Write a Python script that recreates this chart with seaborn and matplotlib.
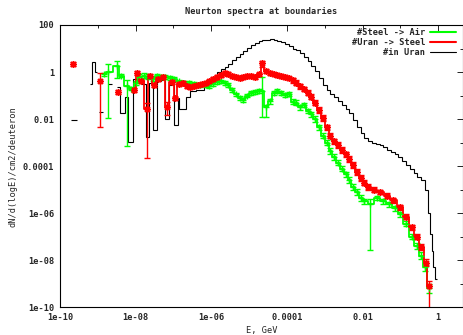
import numpy as np
import pandas as pd
import matplotlib
matplotlib.use("Agg")
import matplotlib.pyplot as plt
from matplotlib.lines import Line2D
import seaborn as sns

# energies as log10(E / GeV), fluxes as log10(dN/d(logE)/cm2/deuteron)
# dlo / dhi: size of the error bar below / above the point, in decades

# Steel -> Air
steel_air_logE = [-8.84, -8.73, -8.49, -8.38, -8.24, -8.12, -8.00, -7.90, -7.78, -7.66,
                  -7.55, -7.44, -7.33, -7.22, -7.10, -6.98, -6.85, -6.72, -6.60, -6.45,
                  -6.30, -6.15, -6.05, -5.95, -5.85, -5.75, -5.65, -5.55, -5.45, -5.35,
                  -5.25, -5.15, -5.05, -4.95, -4.85, -4.75, -4.65, -4.56, -4.46, -4.35,
                  -4.25, -4.15, -4.05, -3.95, -3.85, -3.75, -3.65, -3.55, -3.45, -3.35,
                  -3.25, -3.15, -3.05, -2.95, -2.85, -2.75, -2.65, -2.55, -2.45, -2.35,
                  -2.25, -2.15, -2.05, -1.95, -1.80, -1.62, -1.45, -1.30, -1.15, -1.00,
                  -0.85, -0.70, -0.57, -0.45, -0.35, -0.24]
steel_air_logF = [-0.10, 0.00, 0.25, -0.15, -0.60, -0.70, -0.45, -0.20, -0.15, -0.20,
                  -0.30, -0.15, -0.20, -0.20, -0.25, -0.30, -0.40, -0.47, -0.45, -0.50,
                  -0.55, -0.55, -0.60, -0.50, -0.42, -0.40, -0.45, -0.55, -0.77, -0.95,
                  -1.10, -1.19, -1.00, -0.90, -0.84, -0.80, -0.80, -1.50, -1.25, -0.90,
                  -0.80, -0.90, -0.98, -0.92, -1.26, -1.30, -1.50, -1.40, -1.65, -1.80,
                  -2.00, -2.35, -2.70, -3.00, -3.35, -3.60, -3.85, -4.10, -4.35, -4.60,
                  -4.90, -5.10, -5.35, -5.50, -5.60, -5.36, -5.50, -5.62, -5.80, -6.05,
                  -6.44, -7.00, -7.40, -7.80, -8.30, -9.20]
steel_air_dlo = [0.08, 1.97, 0.50, 0.08, 2.55, 0.08, 0.08, 0.10, 0.10, 0.10,
                 0.08, 0.08, 0.08, 0.08, 0.08, 0.08, 0.08, 0.08, 0.08, 0.08,
                 0.08, 0.08, 0.08, 0.08, 0.08, 0.08, 0.08, 0.08, 0.08, 0.08,
                 0.08, 0.08, 0.08, 0.08, 0.08, 0.08, 1.10, 0.40, 0.10, 0.08,
                 0.08, 0.08, 0.08, 0.08, 0.10, 0.10, 0.10, 0.10, 0.10, 0.10,
                 0.12, 0.12, 0.12, 0.12, 0.12, 0.12, 0.12, 0.12, 0.12, 0.12,
                 0.12, 0.12, 0.12, 0.12, 1.97, 0.10, 0.10, 0.10, 0.10, 0.10,
                 0.10, 0.10, 0.12, 0.15, 0.15, 0.20]
steel_air_dhi = [0.08, 0.35, 0.20, 0.08, 0.26, 0.08, 0.08, 0.10, 0.10, 0.10,
                 0.08, 0.08, 0.08, 0.08, 0.08, 0.08, 0.08, 0.08, 0.08, 0.08,
                 0.08, 0.08, 0.08, 0.08, 0.08, 0.08, 0.08, 0.08, 0.08, 0.08,
                 0.08, 0.08, 0.08, 0.08, 0.08, 0.08, 0.60, 0.10, 0.10, 0.08,
                 0.08, 0.08, 0.08, 0.08, 0.10, 0.10, 0.10, 0.10, 0.10, 0.10,
                 0.12, 0.12, 0.12, 0.12, 0.12, 0.12, 0.12, 0.12, 0.12, 0.12,
                 0.12, 0.12, 0.12, 0.12, 0.20, 0.10, 0.10, 0.10, 0.10, 0.10,
                 0.10, 0.10, 0.12, 0.15, 0.15, 0.20]

# Uran -> Steel
uran_steel_logE = [-9.65, -8.93, -8.46, -8.05, -7.96, -7.85, -7.71, -7.62, -7.52, -7.40,
                   -7.28, -7.17, -7.05, -6.95, -6.85, -6.75, -6.65, -6.55, -6.45, -6.35,
                   -6.25, -6.15, -6.05, -5.95, -5.85, -5.75, -5.65, -5.55, -5.45, -5.35,
                   -5.25, -5.15, -5.05, -4.95, -4.85, -4.75, -4.65, -4.55, -4.45, -4.35,
                   -4.25, -4.15, -4.05, -3.95, -3.85, -3.75, -3.65, -3.55, -3.45, -3.35,
                   -3.25, -3.15, -3.05, -2.95, -2.85, -2.75, -2.65, -2.55, -2.45, -2.35,
                   -2.25, -2.15, -2.05, -1.95, -1.85, -1.70, -1.53, -1.36, -1.19, -1.02,
                   -0.85, -0.70, -0.57, -0.45, -0.33, -0.24]
uran_steel_logF = [0.34, -0.37, -0.84, -0.77, -0.05, -0.40, -1.55, -0.15, -0.55, -0.30,
                   -0.20, -1.47, -0.41, -1.12, -0.50, -0.48, -0.60, -0.64, -0.60, -0.55,
                   -0.50, -0.45, -0.40, -0.30, -0.20, -0.12, -0.05, -0.08, -0.15, -0.20,
                   -0.25, -0.20, -0.18, -0.15, -0.20, -0.10, 0.37, 0.05, -0.05, -0.10,
                   -0.12, -0.18, -0.20, -0.27, -0.35, -0.45, -0.60, -0.72, -0.88, -1.05,
                   -1.30, -1.60, -1.95, -2.35, -2.70, -2.95, -3.10, -3.30, -3.50, -3.70,
                   -3.95, -4.25, -4.50, -4.70, -4.90, -5.00, -5.10, -5.25, -5.45, -5.75,
                   -6.15, -6.60, -7.00, -7.45, -8.10, -9.10]
uran_steel_dlo = [0.08, 1.98, 0.08, 0.08, 0.08, 0.08, 2.10, 0.08, 0.08, 0.08,
                  0.08, 0.36, 0.08, 0.08, 0.08, 0.08, 0.08, 0.08, 0.08, 0.08,
                  0.08, 0.08, 0.08, 0.08, 0.08, 0.08, 0.08, 0.08, 0.08, 0.08,
                  0.08, 0.08, 0.08, 0.08, 0.08, 0.08, 0.15, 0.08, 0.08, 0.08,
                  0.08, 0.08, 0.08, 0.08, 0.10, 0.10, 0.10, 0.10, 0.10, 0.10,
                  0.12, 0.12, 0.12, 0.12, 0.12, 0.12, 0.12, 0.12, 0.12, 0.12,
                  0.12, 0.12, 0.12, 0.12, 0.12, 0.10, 0.10, 0.10, 0.10, 0.10,
                  0.10, 0.10, 0.10, 0.12, 0.15, 1.50]
uran_steel_dhi = [0.08, 0.31, 0.08, 0.08, 0.08, 0.08, 0.25, 0.08, 0.08, 0.08,
                  0.08, 0.21, 0.08, 0.08, 0.08, 0.08, 0.08, 0.08, 0.08, 0.08,
                  0.08, 0.08, 0.08, 0.08, 0.08, 0.08, 0.08, 0.08, 0.08, 0.08,
                  0.08, 0.08, 0.08, 0.08, 0.08, 0.08, 0.10, 0.08, 0.08, 0.08,
                  0.08, 0.08, 0.08, 0.08, 0.10, 0.10, 0.10, 0.10, 0.10, 0.10,
                  0.12, 0.12, 0.12, 0.12, 0.12, 0.12, 0.12, 0.12, 0.12, 0.12,
                  0.12, 0.12, 0.12, 0.12, 0.12, 0.10, 0.10, 0.10, 0.10, 0.10,
                  0.10, 0.10, 0.10, 0.12, 0.15, 0.20]

# in Uran: histogram, bin edges and one value per bin (nan = empty bin)
nan = np.nan
in_uran_edges = [-9.72, -9.56, -9.20, -9.15, -9.07, -9.03, -8.97, -8.87, -8.73, -8.63,
                 -8.50, -8.42, -8.29, -8.20, -8.08, -7.97, -7.85, -7.73, -7.65, -7.55,
                 -7.44, -7.33, -7.23, -7.12, -6.99, -6.89, -6.85, -6.68, -6.55, -6.40,
                 -6.20, -6.05, -5.95, -5.85, -5.75, -5.65, -5.55, -5.45, -5.35, -5.25,
                 -5.15, -5.05, -4.95, -4.85, -4.75, -4.65, -4.55, -4.45, -4.35, -4.25,
                 -4.15, -4.05, -3.95, -3.85, -3.75, -3.65, -3.55, -3.45, -3.35, -3.25,
                 -3.15, -3.05, -2.95, -2.85, -2.75, -2.65, -2.55, -2.45, -2.35, -2.25,
                 -2.15, -2.05, -1.95, -1.85, -1.75, -1.65, -1.55, -1.45, -1.35, -1.25,
                 -1.15, -1.05, -0.95, -0.85, -0.75, -0.65, -0.55, -0.45, -0.35, -0.275,
                 -0.225, -0.175, -0.125, -0.075, -0.03]
in_uran_logF = [-2.05, nan, -0.50, 0.43, 0.00, nan, -1.69, nan, -0.50, nan,
                -0.62, -1.73, -1.05, -2.96, -0.30, -0.40, -0.50, -2.75, -0.45, -2.47,
                -0.40, -0.35, -2.00, -0.55, -2.26, -1.10, -1.55, -1.05, -0.81, -0.77,
                -0.62, -0.45, -0.20, 0.00, 0.12, 0.23, 0.35, 0.50, 0.65, 0.78,
                0.90, 1.02, 1.15, 1.23, 1.30, 1.35, 1.38, 1.39, 1.36, 1.32,
                1.26, 1.18, 1.10, 1.00, 0.93, 0.82, 0.65, 0.48, 0.25, 0.05,
                -0.25, -0.55, -0.75, -0.95, -1.05, -1.25, -1.40, -1.55, -1.75, -2.05,
                -2.35, -2.60, -2.80, -2.95, -3.02, -3.05, -3.10, -3.20, -3.30, -3.40,
                -3.50, -3.62, -3.78, -3.95, -4.12, -4.30, -4.45, -4.60, -5.00, -6.00,
                -6.90, -7.60, -8.30, -8.80]

GREEN = "#00ff00"
RED = "#ff0000"
GAP_DEX = 0.3   # points further apart than this are not joined by the step line


def spectrum_frame(logE, logF, dlo, dhi):
    df = pd.DataFrame({"logE": logE, "logF": logF, "dlo": dlo, "dhi": dhi})
    df["E"] = 10.0 ** df["logE"]
    df["F"] = 10.0 ** df["logF"]
    df["lo"] = df["F"] - 10.0 ** (df["logF"] - df["dlo"])
    df["hi"] = 10.0 ** (df["logF"] + df["dhi"]) - df["F"]
    df["seg"] = (df["logE"].diff() > GAP_DEX).cumsum()
    return df


steel_air = spectrum_frame(steel_air_logE, steel_air_logF, steel_air_dlo, steel_air_dhi)
uran_steel = spectrum_frame(uran_steel_logE, uran_steel_logF, uran_steel_dlo, uran_steel_dhi)

sns.set_style("white")
plt.rcParams["font.family"] = ["DejaVu Sans Mono"]
plt.rcParams["font.weight"] = "bold"
plt.rcParams["font.size"] = 6.2

fig, ax = plt.subplots(figsize=(4.63, 3.35), dpi=100)
fig.subplots_adjust(left=60 / 463, right=462.5 / 463, bottom=1 - 307.3 / 335, top=1 - 25 / 335)
ax.set_xscale("log")
ax.set_yscale("log")

for df, color, marker, ms in [(steel_air, GREEN, "+", 4), (uran_steel, RED, (8, 2, 0), 5)]:
    sns.lineplot(data=df, x="E", y="F", units="seg", estimator=None, sort=False,
                 drawstyle="steps-mid", color=color, lw=1.3, legend=False, ax=ax)
    ax.errorbar(df["E"], df["F"], yerr=[df["lo"], df["hi"]], linestyle="none",
                marker=marker, ms=ms, mew=1.0, color=color, ecolor=color,
                elinewidth=1.0, capsize=2, capthick=1.0)

ax.stairs(10.0 ** np.array(in_uran_logF), 10.0 ** np.array(in_uran_edges),
          baseline=None, color="black", lw=0.8)

ax.set_xlim(1e-10, 4.4)
ax.set_ylim(1e-10, 100)
ax.set_xticks([1e-10, 1e-8, 1e-6, 1e-4, 1e-2, 1])
ax.set_xticklabels(["1e-10", "1e-08", "1e-06", "0.0001", "0.01", "1"])
ax.set_xticks([1e-9, 1e-7, 1e-5, 1e-3, 1e-1], minor=True)
ax.set_yticks([1e-10, 1e-8, 1e-6, 1e-4, 1e-2, 1, 100])
ax.set_yticklabels(["1e-10", "1e-08", "1e-06", "0.0001", "0.01", "1", "100"])
ax.set_yticks([1e-9, 1e-7, 1e-5, 1e-3, 1e-1, 10], minor=True)
ax.xaxis.set_minor_formatter(plt.NullFormatter())
ax.yaxis.set_minor_formatter(plt.NullFormatter())
ax.tick_params(which="both", direction="in", top=True, right=True, width=0.6, color="black")
ax.tick_params(which="major", length=4, pad=4)
ax.tick_params(which="minor", length=2.5)
for sp in ax.spines.values():
    sp.set_color("black")
    sp.set_linewidth(0.8)

ax.set_title("Neurton spectra at boundaries", pad=8, fontsize=6.2, fontweight="bold")
ax.set_xlabel("E, GeV", labelpad=3)
ax.set_ylabel("dN/d(logE)/cm2/deuteron", labelpad=4)

handles = [Line2D([], [], color=GREEN, lw=1.5),
           Line2D([], [], color=RED, lw=1.5),
           Line2D([], [], color="black", lw=0.8)]
ax.legend(handles, ["#Steel -> Air", "#Uran -> Steel", "#in Uran"],
          loc="upper right", bbox_to_anchor=(0.984, 0.99), frameon=False,
          markerfirst=False, handlelength=3.0, handletextpad=0.6,
          labelspacing=0.1, borderpad=0, borderaxespad=0)

fig.savefig("out.png", dpi=100)
